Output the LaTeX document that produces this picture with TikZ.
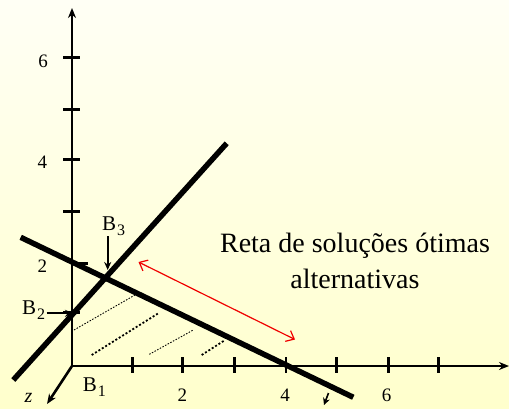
\documentclass[tikz,border=0pt]{standalone}
\usepackage{fontspec}
\setmainfont{Liberation Serif}
\usetikzlibrary{arrows.meta}
\definecolor{bgtop}{RGB}{255,255,245}
\definecolor{bgbot}{RGB}{255,255,204}
\definecolor{redline}{RGB}{240,0,0}
\newcommand{\bsub}[1]{B\kern1pt\raisebox{-5pt}{\fontsize{16}{16}\selectfont #1}}
\begin{document}
\begin{tikzpicture}[x=1pt,y=-1pt,
  axis/.style={line width=2.6pt},
  tick/.style={line width=2.6pt},
  bigline/.style={line width=5.5pt},
  hatchthin/.style={line width=0.9pt,dash pattern=on 1.5pt off 1.5pt},
  hatchthick/.style={line width=1.8pt,dash pattern=on 2pt off 2pt},
  ptr/.style={line width=2pt,-{Stealth[length=8pt,width=7pt]}},
  lbl/.style={font=\fontsize{19}{19}\selectfont,inner sep=0pt},
  blbl/.style={font=\fontsize{21}{21}\selectfont,inner sep=0pt},
  txt/.style={font=\fontsize{28}{36}\selectfont,inner sep=0pt,align=center}]
\useasboundingbox (0,0) rectangle (509,408);
\shade[top color=bgtop,bottom color=bgbot] (0,0) rectangle (509,408);
% axes
\coordinate (O) at (72,366);
\coordinate (Ytop) at (72,8);
\coordinate (Xend) at (509,366);
\coordinate (Zend) at (47,404);
\draw[axis,-{Stealth[length=10pt,width=8pt]}] (O) -- (Ytop);
\draw[axis,-{Stealth[length=10pt,width=8pt]}] (O) -- (Xend);
\draw[axis,-{Stealth[length=10pt,width=8pt]}] (O) -- (Zend);
% y ticks
\foreach \y in {57.3,109.3,159.3,211.7,312.3} \draw[tick] (63,\y) -- (80,\y);
\draw[tick] (72,263.3) -- (88,263.3);
% x ticks
\foreach \x in {132.7,182.3,234.3,286,336.7,388.3,438.3} \draw[tick] (\x,357) -- (\x,373);
% labels
\node[lbl] (y6) at (43,61) {6};
\node[lbl] (y4) at (42.5,162.5) {4};
\node[lbl] (y2) at (42.5,266.5) {2};
\node[lbl] (x2) at (182.3,395.5) {2};
\node[lbl] (x4) at (285,395.5) {4};
\node[lbl] (x6) at (386.7,395.5) {6};
\node[lbl,font=\fontsize{20}{20}\selectfont\itshape] (zl) at (28.5,398) {z};
% hatching
\coordinate (h1a) at (74,330); \coordinate (h1b) at (135,295);
\coordinate (h2a) at (91.7,355); \coordinate (h2b) at (158.3,313.3);
\coordinate (h3a) at (149.3,354.3); \coordinate (h3b) at (193.3,330);
\coordinate (h4a) at (201.7,355); \coordinate (h4b) at (224,340.7);
\draw[hatchthin] (h1a) -- (h1b);
\draw[hatchthick] (h2a) -- (h2b);
\draw[hatchthin] (h3a) -- (h3b);
\draw[hatchthick] (h4a) -- (h4b);
% thick lines
\coordinate (Aa) at (13.3,380); \coordinate (Ab) at (226.7,143.3);
\coordinate (Ba) at (20.7,237.3); \coordinate (Bb) at (353.3,397.3);
\draw[bigline] (Aa) -- (Ab);
\draw[bigline] (Ba) -- (Bb);
% B labels and pointers
\node[blbl,anchor=base west] (B3) at (102,230) {\bsub{3}};
\node[blbl,anchor=base west] (B2) at (22,314.3) {\bsub{2}};
\node[blbl,anchor=base west] (B1) at (82.7,391.7) {\bsub{1}};
\coordinate (p3a) at (107.7,236); \coordinate (p3b) at (107.7,270);
\coordinate (p2a) at (46.7,313.3); \coordinate (p2b) at (73,313.3);
\draw[ptr] (p3a) -- (p3b);
\draw[ptr] (p2a) -- (p2b);
% gradient arrow
\coordinate (ga) at (328.5,393); \coordinate (gb) at (324,405);
\draw[line width=1.6pt,-{Stealth[length=7pt,width=7pt]}] (ga) -- (gb);
% red double arrow
\coordinate (ra) at (138.5,262); \coordinate (rb) at (295,339.5);
\draw[redline,line width=1.2pt,{Straight Barb[length=7pt,width=12pt]}-{Straight Barb[length=7pt,width=12pt]}] (ra) -- (rb);
% text
\node[txt] (reta) at (355,261) {Reta de soluções ótimas\\alternativas};
\end{tikzpicture}
\end{document}
